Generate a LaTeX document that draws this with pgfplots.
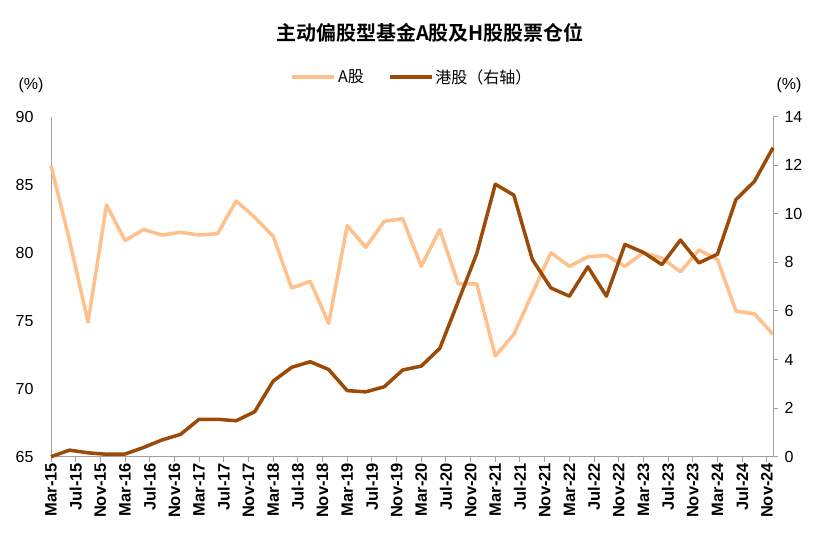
\documentclass[border=0pt]{standalone}
\usepackage{pgfplots}
\pgfplotsset{compat=1.18}
\usepackage{fontspec}
\setmainfont{Liberation Sans}
\newfontfamily\cjk{Noto Sans CJK SC}[BoldFont={Noto Sans CJK SC Bold}]
\definecolor{ashare}{RGB}{255,192,140}
\definecolor{hshare}{RGB}{156,74,8}
\definecolor{axgray}{RGB}{160,160,160}

\pgfplotstableread{
x a
0 86.4
3 80.9
6 74.9
9 83.5
12 80.9
15 81.7
18 81.3
21 81.5
24 81.3
27 81.4
30 83.8
33 82.6
36 81.2
39 77.4
42 77.9
45 74.8
48 82.0
51 80.4
54 82.3
57 82.5
60 79.0
63 81.7
66 77.7
69 77.7
72 72.4
75 74.0
78 77.0
81 80.0
84 79.0
87 79.7
90 79.8
93 79.0
96 80.0
99 79.6
102 78.6
105 80.2
108 79.5
111 75.7
114 75.5
117 74.0
}\adata

\pgfplotstableread{
x h
0 0.00
3 0.27
6 0.16
9 0.10
12 0.11
15 0.38
18 0.69
21 0.92
24 1.54
27 1.54
30 1.48
33 1.85
36 3.11
39 3.68
42 3.91
45 3.59
48 2.72
51 2.67
54 2.88
57 3.57
60 3.73
63 4.46
66 6.40
69 8.37
72 11.22
75 10.77
78 8.12
81 6.95
84 6.61
87 7.82
90 6.61
93 8.74
96 8.41
99 7.91
102 8.92
105 7.98
108 8.34
111 10.59
114 11.34
117 12.72
}\hdata

\begin{document}
\begin{tikzpicture}[x=1pt,y=1pt]
\useasboundingbox (0,0) rectangle (827,534);
\begin{axis}[
  at={(51pt,77.3pt)}, anchor=south west,
  scale only axis, width=722pt, height=340pt,
  xmin=0, xmax=117, ymin=65, ymax=90,
  axis x line*=bottom, axis y line*=left,
  axis line style={axgray, line width=1pt, -},
  xtick={0,4,...,116},
  xticklabels={Mar-15,Jul-15,Nov-15,Mar-16,Jul-16,Nov-16,Mar-17,Jul-17,Nov-17,Mar-18,Jul-18,Nov-18,Mar-19,Jul-19,Nov-19,Mar-20,Jul-20,Nov-20,Mar-21,Jul-21,Nov-21,Mar-22,Jul-22,Nov-22,Mar-23,Jul-23,Nov-23,Mar-24,Jul-24,Nov-24},
  x tick label style={rotate=90, anchor=east, font=\fontsize{16.5}{18}\selectfont\bfseries, inner sep=1pt},
  xtick style={axgray, line width=1pt},
  tick align=outside, major tick length=5pt,
  ytick={65,70,...,90},
  y tick label style={font=\fontsize{16}{18}\selectfont, xshift=-9pt},
  ytick style={draw=none},
  /pgf/number format/assume math mode=true,
  clip=false,
]
\addplot[ashare, line width=3.5pt, line join=round] table[x=x,y=a] {\adata};
\end{axis}
\begin{axis}[
  at={(51pt,77.3pt)}, anchor=south west,
  scale only axis, width=722pt, height=340pt,
  xmin=0, xmax=117, ymin=0, ymax=14,
  axis x line=none, axis y line*=right,
  axis line style={axgray, line width=1pt, -},
  ytick={0,2,...,14},
  y tick label style={font=\fontsize{16}{18}\selectfont, xshift=3pt},
  ytick style={axgray, line width=1pt},
  tick align=outside, major tick length=5pt,
  /pgf/number format/assume math mode=true,
  legend style={at={(0.5,1.117)}, anchor=center, draw=none, fill=none,
    font=\fontsize{16}{18}\selectfont\cjk, legend columns=2,
    /tikz/every even column/.append style={column sep=22pt}},
  legend image code/.code={\draw[#1, line width=3.5pt] (0pt,0pt) -- (42pt,0pt);},
  clip=false,
]
\addlegendimage{ashare}
\addlegendentry{A股}
\addplot[hshare, line width=3.5pt, line join=round] table[x=x,y=h] {\hdata};
\addlegendentry{港股（右轴）}
\end{axis}
\node[font=\fontsize{20}{22}\selectfont\cjk\bfseries] at (430,501) {主动偏股型基金A股及H股股票仓位};
\node[font=\fontsize{16}{18}\selectfont] at (31,449) {(\%)};
\node[font=\fontsize{16}{18}\selectfont] at (789,449) {(\%)};
\end{tikzpicture}
\end{document}
